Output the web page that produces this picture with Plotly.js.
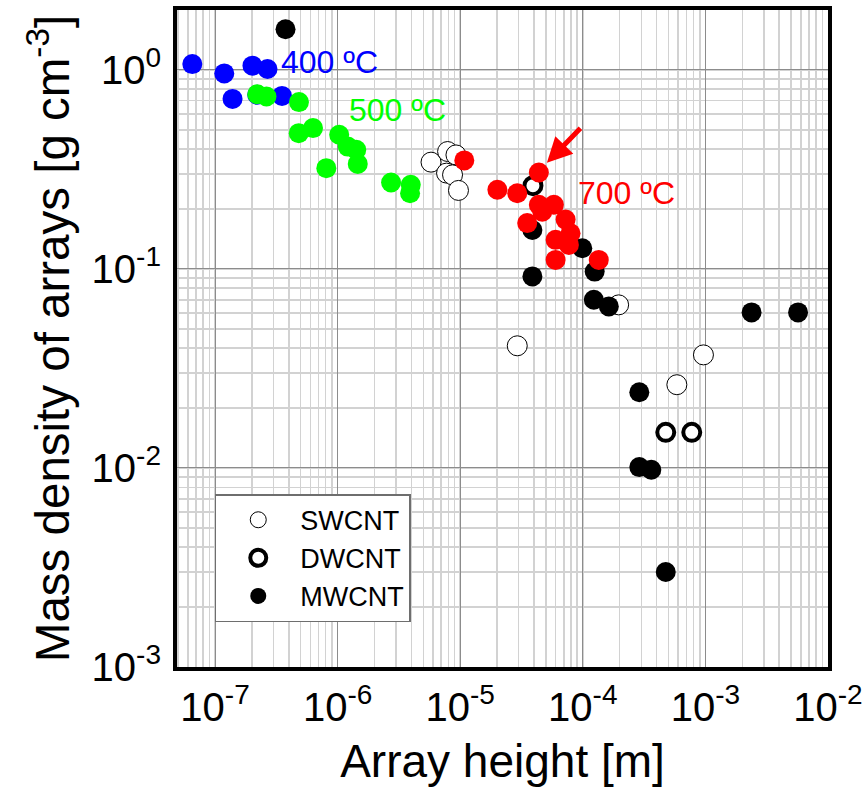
<!DOCTYPE html>
<html>
<head>
<meta charset="utf-8">
<script src="https://cdn.plot.ly/plotly-3.0.1.min.js"></script>
<style>html,body{margin:0;padding:0;background:#fff}</style>
</head>
<body>
<div id="chart" style="width:865px;height:789px"></div>
<script>
// SWCNT (open circles, thin outline)
var swX = [5.78e-6, 7.89e-6, 9.23e-6, 7.74e-6, 8.66e-6, 9.68e-6, 2.92e-5, 1.96e-4, 5.85e-4, 9.64e-4];
var swY = [0.344, 0.389, 0.374, 0.303, 0.297, 0.248, 0.0411, 0.066, 0.0262, 0.037];
// DWCNT (thick rings)
var dwX = [3.92e-5, 4.75e-4, 7.74e-4];
var dwY = [0.262, 0.0151, 0.0151];
// MWCNT (filled black)
var mwX = [3.76e-7, 3.88e-5, 3.88e-5, 9.9e-5, 1.25e-4, 1.23e-4, 1.63e-4, 2.38e-3, 5.7e-3, 2.89e-4, 2.89e-4, 3.62e-4, 4.75e-4];
var mwY = [1.60, 0.157, 0.0917, 0.127, 0.097, 0.070, 0.0648, 0.0605, 0.0605, 0.024, 0.0101, 0.0098, 0.003];
// 400 C (blue)
var c400X = [6.53e-8, 1.19e-7, 2.02e-7, 2.68e-7, 1.39e-7, 2.21e-7, 3.52e-7];
var c400Y = [1.07, 0.96, 1.05, 1.01, 0.715, 0.75, 0.74];
// 500 C (green)
var c500X = [2.21e-7, 2.63e-7, 4.84e-7, 4.82e-7, 6.3e-7, 1.03e-6, 1.21e-6, 1.42e-6, 1.46e-6, 8.09e-7, 2.73e-6, 3.95e-6, 3.9e-6];
var c500Y = [0.755, 0.735, 0.689, 0.481, 0.51, 0.472, 0.412, 0.397, 0.337, 0.321, 0.272, 0.265, 0.24];
// 700 C (red)
var c700X = [1.08e-5, 4.38e-5, 2.01e-5, 2.92e-5, 4.38e-5, 5.81e-5, 4.67e-5, 3.52e-5, 7.24e-5, 6.0e-5, 7.94e-5, 7.7e-5, 6.0e-5, 1.35e-4];
var c700Y = [0.351, 0.305, 0.25, 0.240, 0.21, 0.21, 0.194, 0.170, 0.177, 0.140, 0.151, 0.132, 0.111, 0.111];

var xTickVals = [1e-7, 1e-6, 1e-5, 1e-4, 1e-3, 1e-2];
var xTickText = ['10<sup>-7</sup>', '10<sup>-6</sup>', '10<sup>-5</sup>', '10<sup>-4</sup>', '10<sup>-3</sup>', '10<sup>-2</sup>'];
var yTickVals = [1e-3, 1e-2, 1e-1, 1];
var yTickText = ['10<sup>-3</sup>', '10<sup>-2</sup>', '10<sup>-1</sup>', '10<sup>0</sup>'];

var seriesNames = ['SWCNT', 'DWCNT', 'MWCNT'];
var tempLabels = ['400 ºC', '500 ºC', '700 ºC'];

var F = 'Liberation Sans, Arial, sans-serif';

var traces = [
  {x: swX, y: swY, name: seriesNames[0], type: 'scatter', mode: 'markers',
   marker: {size: 20, color: '#ffffff', line: {color: '#000000', width: 1}}},
  {x: dwX, y: dwY, name: seriesNames[1], type: 'scatter', mode: 'markers',
   marker: {size: 17, color: '#ffffff', line: {color: '#000000', width: 4}}},
  {x: mwX, y: mwY, name: seriesNames[2], type: 'scatter', mode: 'markers',
   marker: {size: 20, color: '#000000', line: {color: '#000000', width: 0}}},
  {x: c400X, y: c400Y, name: tempLabels[0], showlegend: false, type: 'scatter', mode: 'markers',
   marker: {size: 20, color: '#0000ff', line: {width: 0}}},
  {x: c500X, y: c500Y, name: tempLabels[1], showlegend: false, type: 'scatter', mode: 'markers',
   marker: {size: 20, color: '#00ff00', line: {width: 0}}},
  {x: c700X, y: c700Y, name: tempLabels[2], showlegend: false, type: 'scatter', mode: 'markers',
   marker: {size: 20, color: '#ff0000', line: {width: 0}}}
];

var layout = {
  width: 865, height: 789,
  margin: {l: 177, r: 37, t: 10, b: 122},
  paper_bgcolor: '#ffffff', plot_bgcolor: '#ffffff',
  showlegend: true,
  font: {family: F, color: '#000000'},
  xaxis: {
    type: 'log', range: [-7.31, -2.0],
    tickmode: 'array', tickvals: xTickVals, ticktext: xTickText,
    tickfont: {family: F, size: 40, color: '#000'},
    showgrid: true, gridcolor: '#8c8c8c', gridwidth: 1,
    minor: {dtick: 'D1', showgrid: true, gridcolor: '#d2d2d2', gridwidth: 1.5},
    showline: true, linecolor: '#000', linewidth: 4, mirror: true,
    ticks: '', zeroline: false, ticklabelstandoff: 2,
    title: {text: 'Array height [m]', font: {family: F, size: 46, color: '#000'}, standoff: 18}
  },
  yaxis: {
    type: 'log', range: [-3, 0.301],
    tickmode: 'array', tickvals: yTickVals, ticktext: yTickText,
    tickfont: {family: F, size: 40, color: '#000'},
    showgrid: true, gridcolor: '#8c8c8c', gridwidth: 1,
    minor: {dtick: 'D1', showgrid: true, gridcolor: '#d2d2d2', gridwidth: 1.5},
    showline: true, linecolor: '#000', linewidth: 4, mirror: true,
    ticks: '', zeroline: false, ticklabelstandoff: 4,
    title: {text: 'Mass density of arrays [g cm<sup>-3</sup>]', font: {family: F, size: 47.5, color: '#000'}, standoff: 8}
  },
  legend: {
    x: 0.058, y: 0.263, xanchor: 'left', yanchor: 'top',
    bgcolor: '#ffffff', bordercolor: '#6e6e6e', borderwidth: 1.5,
    font: {family: F, size: 27, color: '#000'},
    itemwidth: 74, tracegroupgap: 0
  },
  annotations: [
    {x: -6.065, y: 0.040, xref: 'x', yref: 'y', text: tempLabels[0], showarrow: false,
     font: {family: F, size: 32, color: '#0000ff'}},
    {x: -5.512, y: -0.201, xref: 'x', yref: 'y', text: tempLabels[1], showarrow: false,
     font: {family: F, size: 32, color: '#00ff00'}},
    {x: -3.642, y: -0.617, xref: 'x', yref: 'y', text: tempLabels[2], showarrow: false,
     font: {family: F, size: 32, color: '#ff0000'}},
    {x: -4.293, y: -0.467, xref: 'x', yref: 'y', text: '', showarrow: true,
     ax: 35, ay: -36, arrowhead: 2, arrowsize: 1, arrowwidth: 5, arrowcolor: '#ff0000'}
  ]
};

Plotly.newPlot('chart', traces, layout, {displayModeBar: false, staticPlot: true});
</script>
</body>
</html>
